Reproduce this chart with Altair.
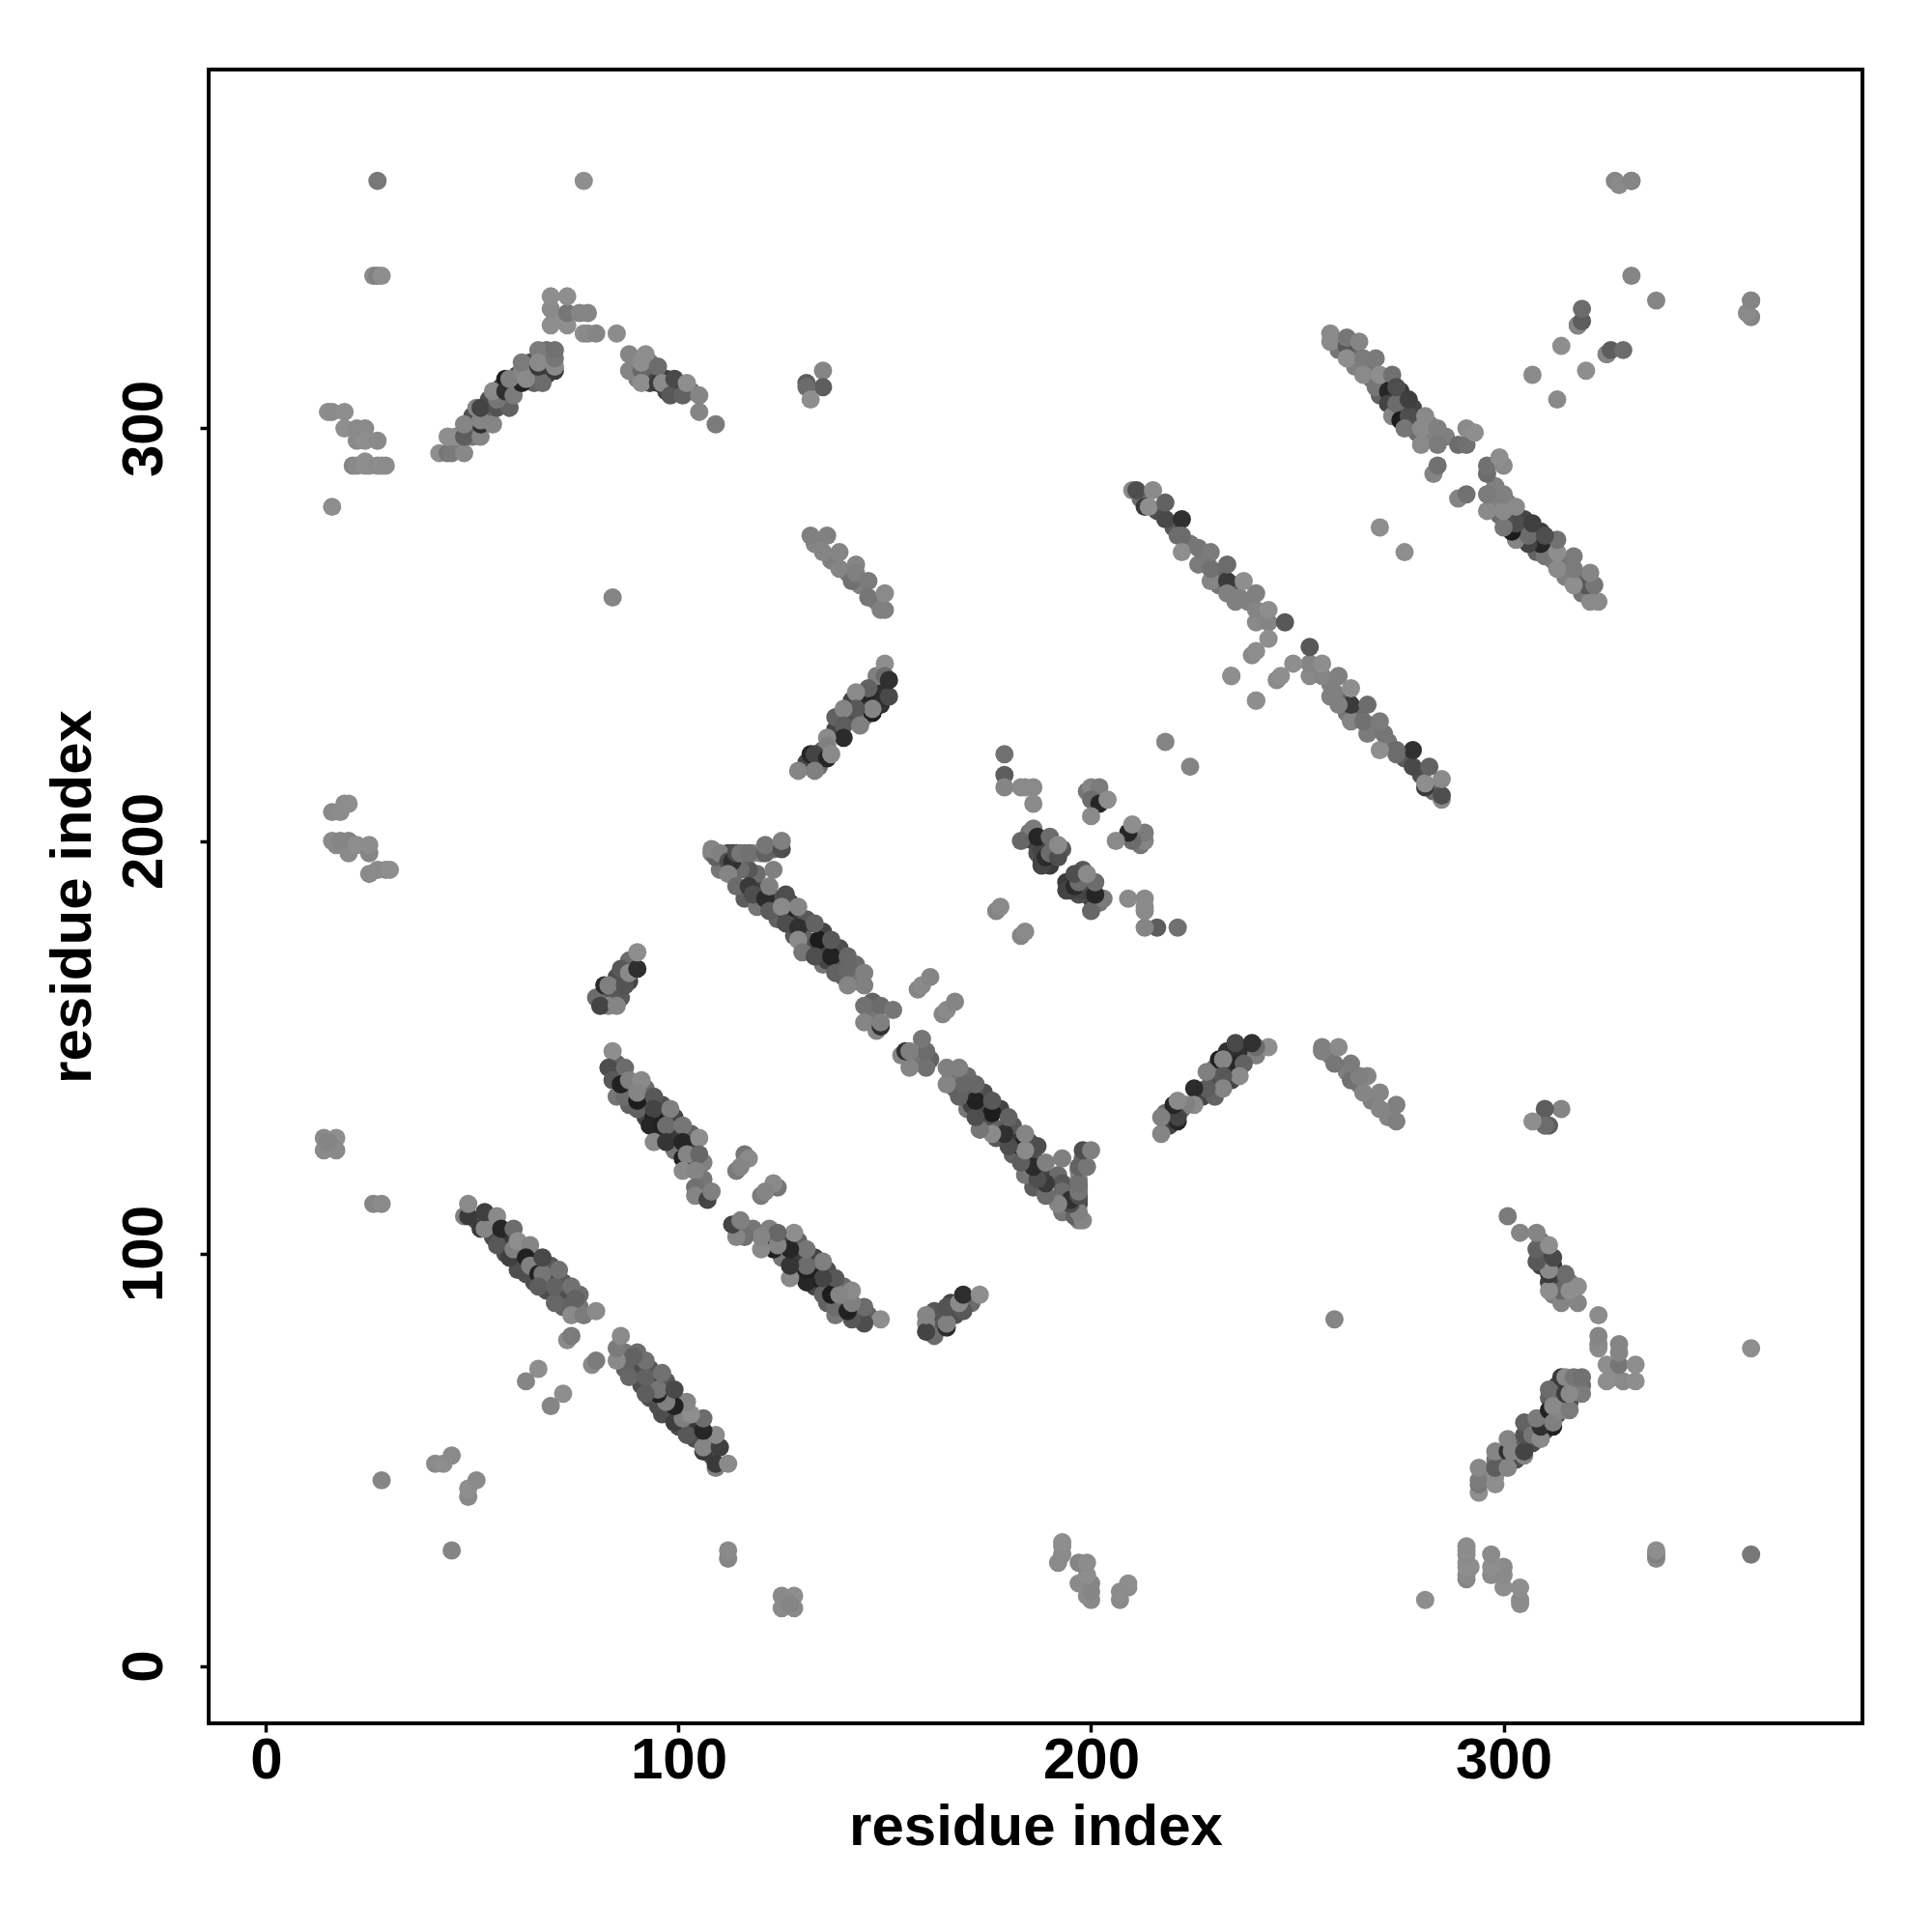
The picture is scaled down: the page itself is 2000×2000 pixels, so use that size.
import altair as alt
import pandas as pd

# Contact map: residue pairs (i, j, grey level). The map is symmetric, so the
# upper-left half is listed and every pair is also shown as (j, i).
isolated = [(27,360,112),(77,360,138),(26,337,130),(27,337,120),(28,337,138),(16,281,135),(84,259,125),
            (28,45,125),(41,49,130),(43,49,135),(45,51,130),(218,224,125),(270,276,135),(307,313,130),
            (314,320,135),(331,337,125),(327,360,125),(328,359,130),(331,360,125),(331,360,125)]
cluster_a = [(15,304,135),(16,304,130),(19,304,135),(19,300,135),(22,300,130),(24,300,130),
             (22,297,130),(24,297,135),(27,297,130),(21,291,125),(22,291,130),(24,291,135),(24,292,135),
             (25,291,135),(27,291,130),(28,291,135),(29,291,132)]
cluster_b = [(47,296,110),(50,298,110),(50,300,100),(50,303,70),(54,303,90),(54,307,70),(57,307,60),(57,310,60),
             (60,310,40),(61,313,60),(64,313,40),(64,316,70),(65,311,90),(68,313,60),(68,317,80),(68,319,100),
             (42,294,135),(44,294,110),(45,294,115),(48,294,128),(44,298,135),(46,298,135),(48,298,85),(52,298,125),
             (52,301,40),(48,301,125),(52,302,125),(55,301,125),(51,305,125),(52,305,60),(56,305,75),(59,305,90),
             (58,312,25),(56,307,110),(55,309,130),(58,309,40),(60,308,115),(62,311,25),(59,312,120),(62,314,125),
             (67,311,100),(63,312,130),(62,316,115),(66,319,115),(66,315,50),(66,316,130),(70,314,50),
             (70,315,130),(70,317,110),(70,319,105),
             (69,325,135),(73,325,135),(70,327,135),(69,329,130),(73,328,110),(76,328,125),(78,328,125),
             (69,332,135),(73,332,135),(77,323,135),(78,323,130),(80,323,125),(85,323,132)]
cluster_b2 = [(93,313,90),(93,311,60),(97,312,50),(97,309,60),(100,310,60),(103,309,100),(90,312,120),(93,316,110),
              (88,314,125),(88,318,125),(91,314,95),(91,316,135),(92,318,135),(91,311,135),(95,311,50),
              (95,315,100),(96,311,130),(98,308,80),(101,308,90),(99,312,65),(102,311,135),(105,308,125),
              (105,304,125),(109,301,115)]
cluster_c0 = [(135,314,125),(131,311,85),(135,310,85),(131,310,100),(132,307,135)]
cluster_c1 = [(133,272,125),(137,268,120),(141,265,110),(144,262,120),(148,258,120),
              (132,274,120),(136,274,120),(135,270,125),(139,270,125),(139,266,125),(142,263,105),(143,267,125),
              (143,265,120),(146,263,115),(146,259,110),(149,256,120),(150,256,120),(150,260,130)]
cluster_c2 = [(149,236,60),(149,233,40),(145,233,40),(145,230,110),(142,234,60),(142,230,70),(138,227,60),(138,230,90),
              (135,222,90),(134,218,100),(131,219,60),(148,237,40),(148,240,120),
              (150,243,135),(150,240,100),(151,235,65),(151,239,40),(146,236,30),(146,237,90),(143,236,130),
              (147,231,25),(147,232,125),(143,232,80),(140,232,125),(140,228,85),(144,228,120),(140,225,35),
              (136,225,130),(136,223,120),(132,221,30),(133,221,60),(136,220,30),(137,221,130),(129,217,125),(133,217,120)]
cluster_d = [(19,209,130),(20,209,135),(16,207,130),(18,207,132),(17,199,130),(16,200,130),(18,200,125),(20,197,130),
             (20,200,125),(22,199,135),(25,197,125),(25,199,132),(25,192,130),(27,193,130),(29,193,130),(30,193,135)]
cluster_e = [(84,163,60),(85,167,70),(88,166,60),(82,161,80),(84,161,80),(88,171,100),
             (83,160,125),(80,162,100),(81,160,60),(82,165,35),(83,165,120),(86,162,80),(87,165,75),
             (85,160,125),(86,169,80),(88,168,130),(90,169,38),(90,173,135)]
cluster_g = [(14,128,130),(14,125,130),(17,128,135),(17,125,130),(15,127,125),(26,112,125),(28,112,130)]
cluster_h = [(85,146,90),(86,144,60),(89,140,70),(92,140,100),(92,136,50),(92,133,60),(96,136,70),(96,133,50),(95,129,70),
             (99,133,60),(99,129,50),(99,125,110),(103,129,90),(103,125,60),(103,122,80),(106,118,110),(106,122,120),(88,136,90),(85,138,110),
             (84,149,135),(83,145,70),(84,142,80),(87,145,100),(87,138,100),(86,141,25),(88,142,120),(91,142,130),
             (90,135,90),(90,137,20),(90,139,125),(94,138,80),(94,133,20),(94,135,60),(93,131,30),(94,127,130),(98,135,120),
             (96,131,25),(97,131,100),(97,127,45),(101,131,110),(101,127,30),(105,128,135),(101,123,25),(102,124,125),
             (105,124,95),(101,120,130),(104,120,125),(104,116,105),(104,114,125),(107,113,60),(108,115,120)]
cluster_g2 = [(51,108,70),(55,107,40),(55,104,70),(58,103,50),(58,100,70),(62,101,40),(62,97,60),(61,96,70),(65,99,50),(65,96,60),
              (65,93,70),(69,97,80),(69,94,60),(68,91,70),(72,93,80),(72,90,70),(72,87,90),(76,87,110),(76,90,100),
              (48,109,120),(49,109,50),(49,112,130),(52,106,50),(53,106,125),(53,110,55),(56,109,130),(56,102,80),
              (57,106,30),(60,106,100),(59,99,55),(60,101,120),(61,103,140),(63,95,70),(64,102,125),(63,99,25),
              (64,97,120),(66,95,25),(67,95,110),(67,99,65),(66,92,85),(70,88,95),(70,92,90),(71,96,105),
              (74,92,105),(75,89,90),(74,85,130),(77,85,115),(80,86,130),(73,79,130),(74,80,115),(66,72,135),(63,69,125)]
cluster_i = [(116,124,110),(117,123,130),(114,120,115),(115,121,125)]
cluster_k = [(108,197,120),(110,195,60),(112,197,60),(113,197,70),(116,197,110),(118,197,130),(120,197,120),(123,198,100),
             (111,194,60),(114,195,60),(110,193,110),(109,196,90),
             (116,186,85),(119,184,110),(120,188,60),(123,186,70),(124,181,90),(127,185,60),(128,181,50),(128,177,80),
             (130,178,70),(131,176,90),(131,181,80),(132,174,70),(135,174,60),(135,178,60),(135,170,110),(136,171,60),
             (139,174,70),(139,170,80),(140,167,90),(143,170,100),(143,166,110),(147,158,110),(147,161,90),
             (119,192,100),(117,193,80),(123,193,120),(115,193,100),
             (108,198,125),(110,197,120),(112,195,70),(113,195,40),(114,197,70),(115,197,110),(112,192,125),(117,197,105),
             (121,197,90),(121,199,110),(125,198,70),(125,200,120),
             (114,189,100),(117,189,50),(118,187,70),(121,186,35),(122,189,120),(122,183,85),(126,183,25),(126,187,70),
             (125,184,130),(126,180,70),(129,179,40),(129,184,125),(129,176,130),(134,176,20),(133,180,90),
             (130,173,110),(133,172,70),(137,172,25),(137,176,80),(138,168,90),(141,172,95),(141,169,95),(141,165,125),
             (145,168,120),(145,165,120),(145,160,105),(149,160,100),(152,159,110),(145,156,125),(148,154,125),(149,155,40),(149,156,120),
             (158,164,125),(159,165,130),(161,167,125)]
cluster_f = [(188,200,50),(186,200,60),(190,199,50),(193,198,80),(185,202,110),(187,197,70),(189,199,40),(201,211,40),(199,212,110),
             (190,194,50),(188,195,60),(188,194,60),
             (179,221,105),(179,216,85),(179,213,125),(183,213,130),(184,213,130),(186,213,130),(186,209,130),
             (200,213,125),(202,213,115),(200,210,100),(202,209,30),(204,210,135),(200,206,130),
             (183,200,95),(186,203,115),(188,198,60),(187,201,30),(189,196,35),(190,197,100),(190,201,100),(192,196,70),(192,199,130),
             (177,183,125),(178,184,130)]
cluster_j = [(212,283,100),(216,280,70),(220,276,80),(224,272,110),(228,268,100),(231,265,100),(231,262,110),(235,262,90),
             (235,258,120),(238,258,120),(242,254,120),
             (210,285,130),(211,285,70),(213,281,50),(214,281,135),(215,285,130),(218,278,65),(218,282,90),(222,278,40),
             (221,274,100),(222,274,100),(222,270,140),(226,267,115),(226,271,110),(229,263,125),(229,266,105),(229,270,115),
             (233,263,50),(233,260,120),(233,267,100),(236,259,120),(237,263,135),(240,253,130),(240,256,125),(240,260,120),
             (243,253,125),(243,256,135),(247,253,80),(243,249,135),(239,245,130),(240,246,135),(234,240,135),(240,234,135)]
cluster_l = [(260,319,110),(264,319,100),(264,315,120),(268,315,110),(268,312,110),(271,311,60),(270,308,90),(275,309,50),
             (275,305,40),(274,303,50),(278,305,60),(278,301,90),(279,299,100),(282,298,120),(282,301,120),(286,298,120),
             (258,321,130),(258,323,130),(262,320,80),(262,322,110),(265,321,125),(262,317,135),(266,317,115),(269,317,115),
             (266,313,130),(269,310,110),(270,313,135),(273,313,105),(272,309,30),(272,306,60),(273,303,125),(274,306,100),(274,310,70),
             (275,302,20),(277,303,70),(277,307,55),(276,300,110),(280,296,130),(280,300,130),(281,303,130),(284,300,120),(284,296,115),
             (283,289,125),(284,291,105),(289,296,100),(291,296,105),(291,300,130),(293,299,135)]
cluster_m = [(318,325,40),(318,325,125),(319,326,85),(319,329,100)]

clusters = [cluster_a, cluster_b, cluster_b2, cluster_c0, cluster_c1, cluster_c2, cluster_d, cluster_e, cluster_g,
            cluster_h, cluster_g2, cluster_i, cluster_k, cluster_f, cluster_j, cluster_l, cluster_m, isolated]


def shade(g):
    v = min(g + 8, 142)
    return f"rgb({v},{v},{v})"


rows = []
for cluster in clusters:
    for i, j, g in cluster:
        rows.append({"x": i, "y": j, "c": shade(g)})
for cluster in clusters:
    for i, j, g in cluster:
        rows.append({"x": j, "y": i, "c": shade(g)})
df = pd.DataFrame(rows)

domain = [-13.93, 387.0]
ticks = [0, 100, 200, 300]
font = "Liberation Sans"

base = alt.Chart(df).mark_circle(size=360, opacity=1).encode(
    x=alt.X("x:Q", scale=alt.Scale(domain=domain, nice=False, zero=False),
            axis=alt.Axis(values=ticks, title="residue index", labelPadding=0, titlePadding=10, format="d")),
    y=alt.Y("y:Q", scale=alt.Scale(domain=domain, nice=False, zero=False),
            axis=alt.Axis(values=ticks, title="residue index", labelAngle=270, labelAlign="center",
                          labelBaseline="bottom", labelPadding=27, titlePadding=13, format="d")),
    color=alt.Color("c:N", scale=None),
).properties(
    width=1712, height=1712,
    autosize=alt.AutoSizeParams(type="none"),
    padding={"left": 208, "top": 64, "right": 60, "bottom": 200},
)
chart = base.configure_view(stroke="black", strokeWidth=4).configure_axis(
    grid=False, domain=False, tickColor="black", tickWidth=3.5, tickSize=9,
    labelFont=font, labelFontSize=60, labelFontWeight="bold", labelColor="black",
    titleFont=font, titleFontSize=60, titleFontWeight="bold", titleColor="black",
    labelOverlap=False,
)
chart.save("out.html", embed_options={"renderer": "svg", "actions": False})
